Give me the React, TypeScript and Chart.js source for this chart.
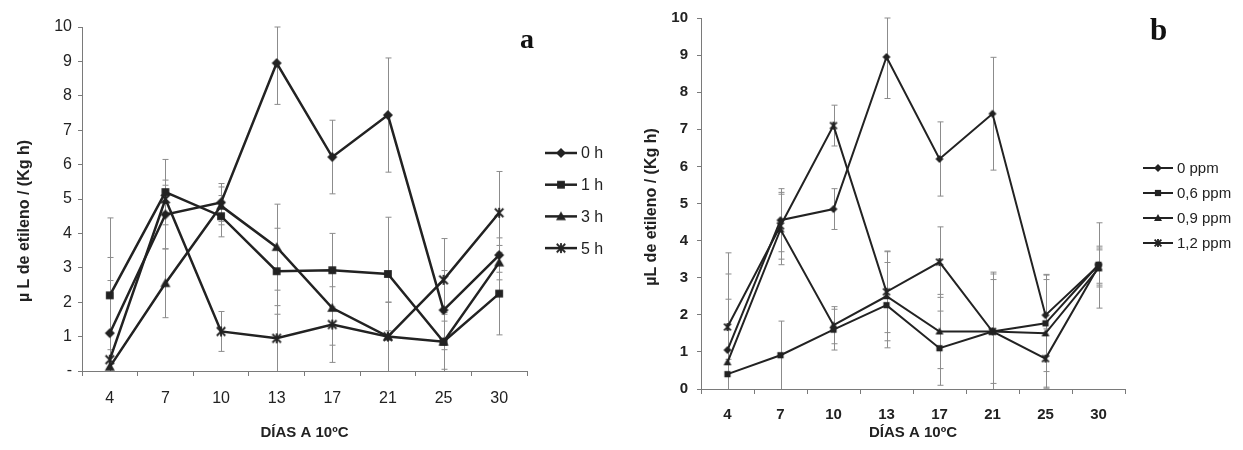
import React, { useEffect, useRef } from 'react';
import { Chart, registerables } from 'chart.js';

Chart.register(...registerables);

// ---------- DATA ----------
const days = ['4', '7', '10', '13', '17', '21', '25', '30'];
const yTickLabelsA = ['-', '1', '2', '3', '4', '5', '6', '7', '8', '9', '10'];
const yTickLabelsB = ['0', '1', '2', '3', '4', '5', '6', '7', '8', '9', '10'];

const seriesLabelsA = ['0 h', '1 h', '3 h', '5 h'];
const valuesA0h = [1.1, 4.55, 4.9, 8.95, 6.22, 7.44, 1.77, 3.37];
const valuesA1h = [2.2, 5.2, 4.5, 2.9, 2.93, 2.82, 0.85, 2.25];
const valuesA3h = [0.12, 2.55, 4.8, 3.6, 1.83, 1.0, 0.85, 3.15];
const valuesA5h = [0.33, 5.0, 1.15, 0.95, 1.35, 1.0, 2.65, 4.6];
const errA0h = [2.2, 1.0, 0.55, 1.2, 1.07, 1.66, 1.15, 0.5];
const errA1h = [2.25, 0.95, 0.6, 1.25, 1.07, 1.65, 0.85, 1.2];
const errA3h = [0.5, 1.0, 0.55, 1.25, 1.08, 1.0, 0.8, 0.5];
const errA5h = [2.3, 0.4, 0.58, 0.95, 1.1, 1.0, 1.2, 1.2];

const seriesLabelsB = ['0 ppm', '0,6 ppm', '0,9 ppm', '1,2 ppm'];
const valuesB0 = [1.05, 4.55, 4.85, 8.95, 6.2, 7.42, 1.99, 3.33];
const valuesB06 = [0.4, 0.91, 1.6, 2.26, 1.1, 1.55, 1.77, 3.35];
const valuesB09 = [0.72, 4.3, 1.72, 2.5, 1.55, 1.55, 1.5, 3.25];
const valuesB12 = [1.67, 4.4, 7.1, 2.62, 3.42, 1.55, 0.82, 3.3];
const errB0 = [2.05, 0.85, 0.55, 1.12, 1.0, 1.52, 1.1, 1.15];
const errB06 = [0.4, 0.92, 0.55, 1.15, 1.0, 1.55, 1.3, 0.5];
const errB09 = [1.7, 0.95, 0.5, 1.2, 1.0, 1.6, 1.45, 0.5];
const errB12 = [2.0, 0.9, 0.55, 1.1, 0.95, 1.4, 0.8, 0.5];

const xTitle = 'DÍAS A 10ºC';
const yTitleA = 'µ L de etileno / (Kg h)';
const yTitleB = 'µL de etileno / (Kg h)';

// ---------- STYLE ----------
const SANS = "'Liberation Sans', Arial, sans-serif";
const SERIF = "'Liberation Serif', 'Times New Roman', serif";
const INK = '#222222';
const AXIS = '#7a7a7a';
const ERR = '#8c8c8c';

type Shape = 'diamond' | 'square' | 'triangle' | 'star';

function makeMarker(shape: Shape, r: number, color: string): HTMLCanvasElement {
  const size = Math.ceil(r * 2 + 4);
  const c = document.createElement('canvas');
  c.width = size;
  c.height = size;
  const ctx = c.getContext('2d')!;
  const m = size / 2;
  ctx.fillStyle = color;
  ctx.strokeStyle = color;
  ctx.lineWidth = 1.8;
  ctx.beginPath();
  if (shape === 'diamond') {
    ctx.moveTo(m, m - r);
    ctx.lineTo(m + r, m);
    ctx.lineTo(m, m + r);
    ctx.lineTo(m - r, m);
    ctx.closePath();
    ctx.fill();
  } else if (shape === 'square') {
    const h = r * 0.78;
    ctx.rect(m - h, m - h, 2 * h, 2 * h);
    ctx.fill();
  } else if (shape === 'triangle') {
    ctx.moveTo(m, m - r);
    ctx.lineTo(m + r, m + r * 0.75);
    ctx.lineTo(m - r, m + r * 0.75);
    ctx.closePath();
    ctx.fill();
  } else {
    const k = r * 0.85;
    ctx.moveTo(m - k, m - k);
    ctx.lineTo(m + k, m + k);
    ctx.moveTo(m + k, m - k);
    ctx.lineTo(m - k, m + k);
    ctx.moveTo(m, m - r);
    ctx.lineTo(m, m + r);
    ctx.stroke();
  }
  return c;
}

interface PanelCfg {
  width: number;
  height: number;
  area: { left: number; right: number; top: number; bottom: number };
  labels: string[];
  values: number[][];
  errors: number[][];
  shapes: Shape[];
  markerR: number;
  lineWidth: number;
  yTickLabels: string[];
  tickFont: { size: number; weight: string };
  xTickPad: number;
  yTickPad: number;
  yTitle: { text: string; x: number; y: number; size: number };
  xTitleSize: number;
  letter: { text: string; x: number; y: number; size: number };
  legend: { x: number; y0: number; dy: number; lineLen: number; gap: number; size: number };
}

function buildChart(canvas: HTMLCanvasElement, p: PanelCfg): Chart {
  const markers = p.shapes.map((s) => makeMarker(s, p.markerR, INK));

  const decor = {
    id: 'decor',
    beforeDatasetsDraw(chart: any) {
      const ctx = chart.ctx;
      const xs = chart.scales.x;
      const ys = chart.scales.y;
      ctx.save();
      ctx.strokeStyle = ERR;
      ctx.lineWidth = 1;
      p.values.forEach((vals, i) => {
        vals.forEach((v, j) => {
          const e = p.errors[i][j];
          const x = Math.round(xs.getPixelForValue(j)) + 0.5;
          const yT = ys.getPixelForValue(Math.min(10, v + e));
          const yB = ys.getPixelForValue(Math.max(0, v - e));
          ctx.beginPath();
          ctx.moveTo(x, yT);
          ctx.lineTo(x, yB);
          ctx.moveTo(x - 3, yT);
          ctx.lineTo(x + 3, yT);
          if (v - e > 0) {
            ctx.moveTo(x - 3, yB);
            ctx.lineTo(x + 3, yB);
          }
          ctx.stroke();
        });
      });
      ctx.restore();
    },
    afterDraw(chart: any) {
      const ctx = chart.ctx;
      ctx.save();
      // legend
      const L = p.legend;
      ctx.font = `${L.size}px ${SANS}`;
      ctx.textBaseline = 'middle';
      ctx.textAlign = 'left';
      p.labels.forEach((lab, i) => {
        const y = L.y0 + i * L.dy;
        ctx.strokeStyle = INK;
        ctx.lineWidth = p.lineWidth;
        ctx.beginPath();
        ctx.moveTo(L.x, y);
        ctx.lineTo(L.x + L.lineLen, y);
        ctx.stroke();
        const mk = markers[i];
        ctx.drawImage(mk, L.x + L.lineLen / 2 - mk.width / 2, y - mk.height / 2);
        ctx.fillStyle = INK;
        ctx.fillText(lab, L.x + L.lineLen + L.gap, y + 1);
      });
      // panel letter
      ctx.font = `bold ${p.letter.size}px ${SERIF}`;
      ctx.fillStyle = '#111';
      ctx.textBaseline = 'alphabetic';
      ctx.fillText(p.letter.text, p.letter.x, p.letter.y);
      // y title
      ctx.translate(p.yTitle.x, p.yTitle.y);
      ctx.rotate(-Math.PI / 2);
      ctx.font = `bold ${p.yTitle.size}px ${SANS}`;
      ctx.textAlign = 'center';
      ctx.textBaseline = 'middle';
      ctx.fillStyle = INK;
      ctx.fillText(p.yTitle.text, 0, 0);
      ctx.restore();
    },
  };

  return new Chart(canvas, {
    type: 'line',
    data: {
      labels: days,
      datasets: p.values.map((vals, i) => ({
        label: p.labels[i],
        data: vals,
        borderColor: INK,
        backgroundColor: INK,
        borderWidth: p.lineWidth,
        pointStyle: markers[i] as any,
        pointRadius: p.markerR,
        pointHoverRadius: p.markerR,
        fill: false,
        tension: 0,
      })),
    },
    options: {
      responsive: false,
      animation: false,
      devicePixelRatio: 1,
      layout: {
        padding: {
          left: 0,
          top: p.area.top,
          right: p.width - p.area.right,
          bottom: 0,
        },
      },
      plugins: {
        legend: { display: false },
        tooltip: { enabled: false },
        title: { display: false },
      },
      scales: {
        x: {
          type: 'category',
          offset: true,
          grid: {
            offset: true,
            drawOnChartArea: false,
            drawTicks: true,
            tickLength: 5,
            color: AXIS,
            lineWidth: 1,
          },
          border: { display: true, color: AXIS, width: 1 },
          ticks: {
            color: INK,
            font: { family: SANS, size: p.tickFont.size, weight: p.tickFont.weight as any },
            padding: p.xTickPad,
            maxRotation: 0,
            autoSkip: false,
          },
          title: {
            display: true,
            text: xTitle,
            color: INK,
            font: { family: SANS, size: p.xTitleSize, weight: 'bold' },
            padding: { top: 0, bottom: 8 },
          },
          afterFit: (s: any) => {
            s.height = p.height - p.area.bottom;
          },
        },
        y: {
          min: 0,
          max: 10,
          grid: {
            drawOnChartArea: false,
            drawTicks: true,
            tickLength: 4,
            color: AXIS,
            lineWidth: 1,
          },
          border: { display: true, color: AXIS, width: 1 },
          ticks: {
            stepSize: 1,
            color: INK,
            font: { family: SANS, size: p.tickFont.size, weight: p.tickFont.weight as any },
            padding: p.yTickPad,
            callback: (v: any) => p.yTickLabels[Math.round(Number(v))],
          },
          afterFit: (s: any) => {
            s.width = p.area.left;
          },
        },
      },
    },
    plugins: [decor as any],
  });
}

const panelA: PanelCfg = {
  width: 620,
  height: 450,
  area: { left: 82, right: 527, top: 27, bottom: 371 },
  labels: seriesLabelsA,
  values: [valuesA0h, valuesA1h, valuesA3h, valuesA5h],
  errors: [errA0h, errA1h, errA3h, errA5h],
  shapes: ['diamond', 'square', 'triangle', 'star'],
  markerR: 5,
  lineWidth: 2.5,
  yTickLabels: yTickLabelsA,
  tickFont: { size: 16, weight: 'normal' },
  xTickPad: 13,
  yTickPad: 6,
  yTitle: { text: yTitleA, x: 25, y: 221, size: 16 },
  xTitleSize: 15,
  letter: { text: 'a', x: 520, y: 48, size: 28 },
  legend: { x: 545, y0: 153, dy: 31.7, lineLen: 32, gap: 4, size: 16 },
};

const panelB: PanelCfg = {
  width: 623,
  height: 450,
  area: { left: 81, right: 505, top: 17, bottom: 389 },
  labels: seriesLabelsB,
  values: [valuesB0, valuesB06, valuesB09, valuesB12],
  errors: [errB0, errB06, errB09, errB12],
  shapes: ['diamond', 'square', 'triangle', 'star'],
  markerR: 4,
  lineWidth: 2,
  yTickLabels: yTickLabelsB,
  tickFont: { size: 15, weight: 'bold' },
  xTickPad: 12,
  yTickPad: 9,
  yTitle: { text: yTitleB, x: 32, y: 207, size: 16 },
  xTitleSize: 15,
  letter: { text: 'b', x: 530, y: 40, size: 31 },
  legend: { x: 523, y0: 168, dy: 25, lineLen: 30, gap: 4, size: 15 },
};

export default function App() {
  const refA = useRef<HTMLCanvasElement>(null);
  const refB = useRef<HTMLCanvasElement>(null);

  useEffect(() => {
    const a = buildChart(refA.current!, panelA);
    const b = buildChart(refB.current!, panelB);
    return () => {
      a.destroy();
      b.destroy();
    };
  }, []);

  return (
    <div style={{ position: 'absolute', left: 0, top: 0, width: 1243, height: 450, background: '#fff' }}>
      <canvas
        ref={refA}
        width={620}
        height={450}
        style={{ position: 'absolute', left: 0, top: 0, width: 620, height: 450 }}
      />
      <canvas
        ref={refB}
        width={623}
        height={450}
        style={{ position: 'absolute', left: 620, top: 0, width: 623, height: 450 }}
      />
    </div>
  );
}
